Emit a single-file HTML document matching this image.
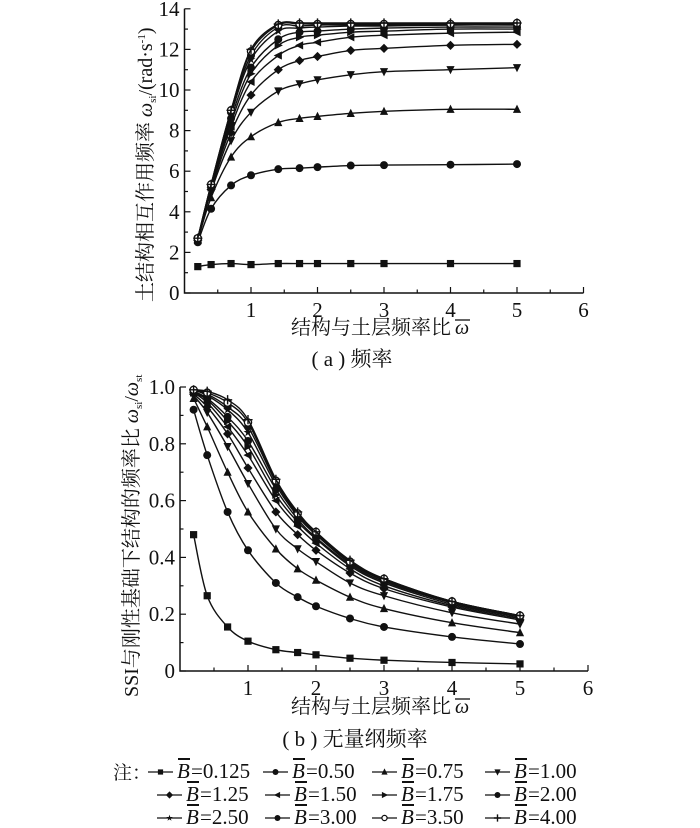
<!DOCTYPE html>
<html><head><meta charset="utf-8">
<style>
html,body{margin:0;padding:0;background:#fff;}
body{width:700px;height:828px;overflow:hidden;position:relative;}
svg text{font-family:"Liberation Serif","Noto Serif CJK SC",serif;fill:#111;}
</style></head>
<body>
<svg id="svg" width="700" height="828" viewBox="0 0 700 828" xmlns="http://www.w3.org/2000/svg" style="position:absolute;left:0;top:0">
<g id="top"></g>
<g id="bot"></g>
<g id="legend"></g>
</svg>
<script>
const xVals = [0.2, 0.4, 0.7, 1, 1.41, 1.73, 2, 2.5, 3, 4, 5];
const seriesNames = ["0.125","0.50","0.75","1.00","1.25","1.50","1.75","2.00","2.50","3.00","3.50","4.00"];
const markers = ["square","circle","tri-up","tri-down","diamond","tri-left","tri-right","circle","star","circle","open-circle","plus"];
const topXTicks = [1,2,3,4,5,6];
const topYTicks = [0,2,4,6,8,10,12,14];
const botYTicks = [0,0.2,0.4,0.6,0.8,1.0];
const botYLabels = ["0","0.2","0.4","0.6","0.8","1.0"];
const topS1 = [1.3,1.4,1.45,1.4,1.45,1.45,1.45,1.45,1.45,1.45,1.45];
const topS2 = [2.5,4.15,5.3,5.8,6.1,6.15,6.2,6.28,6.3,6.32,6.35];
const topS3 = [2.6,4.7,6.7,7.7,8.4,8.6,8.7,8.85,8.95,9.05,9.05];
const topS4 = [2.6,5.0,7.5,8.9,9.95,10.3,10.5,10.75,10.9,11.0,11.1];
const topS5 = [2.6,5.1,7.9,9.75,11.0,11.45,11.65,11.95,12.05,12.2,12.25];
const topS6 = [2.6,5.2,8.2,10.4,11.7,12.2,12.35,12.6,12.7,12.8,12.85];
const topS7 = [2.65,5.2,8.4,10.8,12.2,12.6,12.7,12.85,12.9,13.0,13.0];
const topS8 = [2.65,5.25,8.6,11.1,12.5,12.85,12.9,13.0,13.05,13.1,13.1];
const topS9 = [2.7,5.3,8.8,11.5,12.9,13.05,13.1,13.15,13.15,13.2,13.2];
const topS10 = [2.7,5.3,8.9,11.7,13.1,13.15,13.2,13.2,13.2,13.2,13.25];
const topS11 = [2.7,5.35,9.0,11.9,13.2,13.25,13.25,13.25,13.25,13.25,13.3];
const topS12 = [2.7,5.35,9.0,12.0,13.25,13.3,13.3,13.3,13.3,13.3,13.3];
const botS1 = [0.48,0.265,0.155,0.105,0.075,0.065,0.057,0.045,0.038,0.03,0.025];
const botS2 = [0.92,0.76,0.56,0.425,0.31,0.26,0.228,0.185,0.155,0.12,0.095];
const botS3 = [0.96,0.86,0.70,0.56,0.43,0.36,0.32,0.26,0.22,0.17,0.135];
const botS4 = [0.97,0.91,0.79,0.66,0.50,0.43,0.385,0.31,0.265,0.205,0.165];
const botS5 = [0.975,0.93,0.835,0.715,0.56,0.48,0.425,0.345,0.29,0.225,0.18];
const botS6 = [0.98,0.945,0.86,0.76,0.60,0.51,0.45,0.36,0.30,0.23,0.185];
const botS7 = [0.98,0.955,0.88,0.79,0.62,0.525,0.465,0.37,0.31,0.235,0.19];
const botS8 = [0.985,0.96,0.895,0.81,0.64,0.535,0.47,0.375,0.315,0.24,0.19];
const botS9 = [0.99,0.97,0.92,0.84,0.655,0.545,0.48,0.38,0.32,0.24,0.19];
const botS10 = [0.99,0.975,0.93,0.86,0.665,0.55,0.485,0.385,0.32,0.245,0.195];
const botS11 = [0.99,0.98,0.945,0.875,0.67,0.555,0.49,0.385,0.325,0.245,0.195];
const botS12 = [0.99,0.985,0.955,0.885,0.675,0.56,0.49,0.39,0.325,0.245,0.195];
const topSeries = [topS1,topS2,topS3,topS4,topS5,topS6,topS7,topS8,topS9,topS10,topS11,topS12];
const botSeries = [botS1,botS2,botS3,botS4,botS5,botS6,botS7,botS8,botS9,botS10,botS11,botS12];

const NS = "http://www.w3.org/2000/svg";
const SERIF = "Liberation Serif, Noto Serif CJK SC, serif";
function mk(tag, attrs, parent){const e=document.createElementNS(NS,tag);for(const k in attrs)e.setAttribute(k,attrs[k]);parent.appendChild(e);return e;}

function smoothPath(pts){
  let d = "M"+pts[0][0]+","+pts[0][1];
  for(let i=0;i<pts.length-1;i++){
    const p0=pts[i-1]||pts[i], p1=pts[i], p2=pts[i+1], p3=pts[i+2]||p2;
    const c1=[p1[0]+(p2[0]-p0[0])/6, p1[1]+(p2[1]-p0[1])/6];
    const c2=[p2[0]-(p3[0]-p1[0])/6, p2[1]-(p3[1]-p1[1])/6];
    d+=" C"+c1[0]+","+c1[1]+" "+c2[0]+","+c2[1]+" "+p2[0]+","+p2[1];
  }
  return d;
}

function marker(g, type, x, y, r){
  let e;
  const s=r||3.6;
  if(type==="square") e=mk("rect",{x:x-s,y:y-s,width:2*s,height:2*s,fill:"#111"},g);
  else if(type==="circle") e=mk("circle",{cx:x,cy:y,r:s+0.4,fill:"#111"},g);
  else if(type==="open-circle") e=mk("circle",{cx:x,cy:y,r:s,fill:"#fff",stroke:"#111","stroke-width":1.3},g);
  else if(type==="tri-up") e=mk("polygon",{points:`${x},${y-s-1} ${x-s-0.5},${y+s} ${x+s+0.5},${y+s}`,fill:"#111"},g);
  else if(type==="tri-down") e=mk("polygon",{points:`${x},${y+s+1} ${x-s-0.5},${y-s} ${x+s+0.5},${y-s}`,fill:"#111"},g);
  else if(type==="tri-left") e=mk("polygon",{points:`${x-s-1},${y} ${x+s},${y-s-0.5} ${x+s},${y+s+0.5}`,fill:"#111"},g);
  else if(type==="tri-right") e=mk("polygon",{points:`${x+s+1},${y} ${x-s},${y-s-0.5} ${x-s},${y+s+0.5}`,fill:"#111"},g);
  else if(type==="diamond") e=mk("polygon",{points:`${x},${y-s-1} ${x+s+1},${y} ${x},${y+s+1} ${x-s-1},${y}`,fill:"#111"},g);
  else if(type==="star"){let p=[];for(let k=0;k<10;k++){const a=-Math.PI/2+k*Math.PI/5;const rr=k%2?s*0.5:s*1.3;p.push((x+rr*Math.cos(a)).toFixed(2)+","+(y+rr*Math.sin(a)).toFixed(2));}e=mk("polygon",{points:p.join(" "),fill:"#111"},g);}
  else if(type==="plus") e=mk("path",{d:`M${x-s-1},${y}H${x+s+1}M${x},${y-s-1}V${y+s+1}`,stroke:"#111","stroke-width":1.4,fill:"none"},g);
  
  
  return e;
}

function drawChart(g, cfg){
  const X = v => cfg.x0 + v*cfg.xs;
  const Y = v => cfg.y0 - (v-cfg.ymin)*cfg.ys;
  const right = X(6), top = Y(cfg.ymax);
  const ax = mk("path",{d:`M${X(0)},${top}V${cfg.y0}H${right}`,stroke:"#111","stroke-width":1.5,fill:"none"},g);
  
  
  for(let v=0.5; v<=6.001; v+=0.5){
    const len = (Math.abs(v-Math.round(v))<0.01)?6:3.5;
    mk("line",{x1:X(v),x2:X(v),y1:cfg.y0,y2:cfg.y0-len,stroke:"#111","stroke-width":1.2},g);
  }
  topXTicks.forEach(t=>{
    const tx=mk("text",{x:X(t),y:cfg.y0+24,"text-anchor":"middle","font-size":21,"font-family":SERIF},g);
    tx.textContent=t;
    
    
  });
  cfg.yticks.forEach((t,i)=>{
    mk("line",{x1:X(0),x2:X(0)+6,y1:Y(t),y2:Y(t),stroke:"#111","stroke-width":1.2},g);
    if(i<cfg.yticks.length-1){const m=(t+cfg.yticks[i+1])/2;mk("line",{x1:X(0),x2:X(0)+3.5,y1:Y(m),y2:Y(m),stroke:"#111","stroke-width":1.2},g);}
    const tx=mk("text",{x:X(0)-5,y:Y(t)+7,"text-anchor":"end","font-size":21,"font-family":SERIF},g);
    tx.textContent=cfg.ylabels[i];
    
    
  });
  cfg.series.forEach((s,si)=>{
    const sg=mk("g",{},g);
    
    
    const pts=xVals.map((xv,i)=>[X(xv),Y(s[i])]);
    const p=mk("path",{d:smoothPath(pts),stroke:"#111","stroke-width":1.4,fill:"none"},sg);
    
    
    pts.forEach(pt=>marker(sg,markers[si],pt[0],pt[1]));
  });
}

drawChart(document.getElementById('top'),{x0:184.5,xs:66.5,y0:293,ymin:0,ymax:14,ys:20.3,yticks:topYTicks,ylabels:topYTicks.map(String),series:topSeries});
drawChart(document.getElementById('bot'),{x0:180,xs:68,y0:671,ymin:0,ymax:1,ys:284,yticks:botYTicks,ylabels:botYLabels,series:botSeries});
</script>
<svg style="position:absolute;left:0;top:0" width="700" height="828">
<g font-family="Liberation Serif, Noto Serif CJK SC, serif" fill="#111">
<text transform="translate(152,302) rotate(-90)" font-size="20">土结构相互作用频率 <tspan font-style="italic">ω</tspan><tspan font-size="11" dy="4">si</tspan><tspan dy="-4">/(rad·s</tspan><tspan font-size="11" dy="-7">-1</tspan><tspan dy="7">)</tspan></text>
<text x="451" y="334" text-anchor="end" font-size="20">结构与土层频率比</text>
<text x="455" y="334" font-size="20" font-style="italic">ω</text>
<line x1="455" x2="470" y1="320" y2="320" stroke="#111" stroke-width="1.3"/>
<text x="352" y="366" text-anchor="middle" font-size="21">( a ) 频率</text>
<text transform="translate(138,697) rotate(-90)" font-size="20">SSI与刚性基础下结构的频率比 <tspan font-style="italic">ω</tspan><tspan font-size="11" dy="4">si</tspan><tspan dy="-4">/</tspan><tspan font-style="italic">ω</tspan><tspan font-size="11" dy="4">st</tspan></text>
<text x="451" y="713" text-anchor="end" font-size="20">结构与土层频率比</text>
<text x="455" y="713" font-size="20" font-style="italic">ω</text>
<line x1="455" x2="470" y1="699" y2="699" stroke="#111" stroke-width="1.3"/>
<text x="355" y="746" text-anchor="middle" font-size="21">( b ) 无量纲频率</text>
<text x="113" y="779" font-size="19">注：</text>
</g>
</svg>
<script>
(function(){
  const lg=document.getElementById('legend');
  const cols=[[148,263,372,485],[157,265,372,485],[157,265,372,485]];
  const rows=[778,801,824];
  seriesNames.forEach((n,i)=>{
    const r=Math.floor(i/4), c=i%4;
    const x=cols[r][c], y=rows[r];
    const g=mk("g",{},lg);
    
    
    mk("line",{x1:x,x2:x+25,y1:y-6,y2:y-6,stroke:"#111","stroke-width":1.3},g);
    marker(g,markers[i],x+12.5,y-6,2.6);
    const b=mk("text",{x:x+29,y:y,"font-size":21,"font-style":"italic","font-family":SERIF},g);
    b.textContent='B';
    
    
    mk("line",{x1:x+30,x2:x+42,y1:y-19,y2:y-19,stroke:"#111","stroke-width":2},g);
    const t=mk("text",{x:x+43,y:y,"font-size":21,"font-family":SERIF},g);
    t.textContent='='+n;
    
    
  });
})();
</script>
</body></html>
